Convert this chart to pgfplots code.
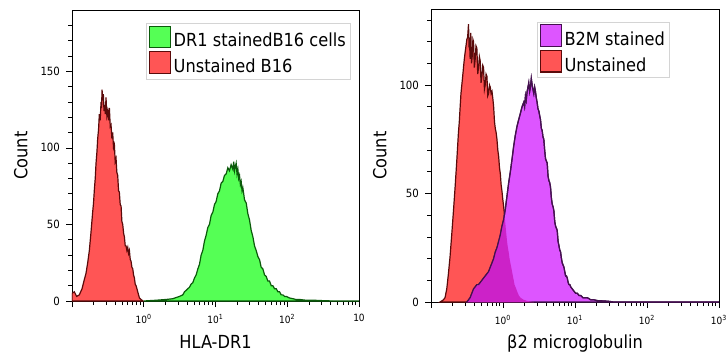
\documentclass[border=0pt]{standalone}
\usepackage{fontspec}
\setmainfont{DejaVu Sans Condensed}
\usepackage{pgfplots}
\pgfplotsset{compat=1.18}
\usepackage{pgfplotstable}

\definecolor{gfill}{HTML}{55FF55}
\definecolor{gline}{HTML}{0B5A0B}
\definecolor{rfill}{HTML}{FF5555}
\definecolor{rline}{HTML}{5A0A0A}
\definecolor{pfill}{HTML}{DD55FF}
\definecolor{pline}{HTML}{44104F}
\definecolor{ofill}{HTML}{CC22C8}
\definecolor{legbord}{HTML}{D4D4D4}

% log10(x)  count
\pgfplotstableread{
lx y
-1.000 5
-0.967 6
-0.935 3
-0.898 4
-0.860 8
-0.828 14
-0.805 18
-0.781 25
-0.758 33
-0.735 45
-0.712 58
-0.700 64
-0.688 73
-0.676 80
-0.665 90
-0.653 97
-0.642 106
-0.630 112
-0.619 122
-0.607 118
-0.595 130
-0.588 126
-0.581 138
-0.572 131
-0.563 135
-0.554 124
-0.544 128
-0.535 122
-0.526 133
-0.514 121
-0.502 124
-0.490 118
-0.479 126
-0.467 114
-0.456 115
-0.444 106
-0.433 110
-0.421 100
-0.409 102
-0.398 91
-0.386 93
-0.375 84
-0.363 82
-0.351 72
-0.340 71
-0.328 63
-0.316 62
-0.305 52
-0.293 50
-0.280 44
-0.270 42
-0.258 36
-0.247 36
-0.235 33
-0.223 35
-0.212 31
-0.200 33
-0.188 27
-0.177 26
-0.165 22
-0.153 21
-0.142 17
-0.130 15
-0.119 11
-0.107 10
-0.095 8
-0.084 6
-0.072 4
-0.060 2
-0.037 1
-0.014 0
0.000 0
}\redL

\pgfplotstableread{
lx y
0.000 0
0.172 0.5
0.312 1
0.405 1.5
0.498 3
0.544 4
0.568 6
0.591 7
0.614 8
0.637 9
0.660 11
0.684 12
0.707 15
0.730 17
0.754 21
0.777 24
0.800 30
0.823 33
0.846 39
0.870 43
0.893 48
0.916 50
0.940 56
0.963 58
0.986 63
1.009 65
1.032 70
1.056 72
1.079 77
1.102 78
1.125 82
1.149 83
1.172 87
1.195 85
1.218 89
1.242 86
1.254 91
1.265 85
1.277 88
1.288 90
1.300 83
1.312 86
1.323 80
1.335 82
1.347 76
1.358 78
1.370 72
1.381 74
1.405 66
1.428 64
1.451 57
1.474 53
1.498 46
1.521 42
1.544 36
1.567 33
1.591 29
1.614 27
1.637 22
1.660 21
1.684 17
1.707 16
1.730 13
1.753 13
1.777 10
1.800 10
1.823 8
1.847 8
1.870 6
1.893 6
1.916 4
1.940 4
1.963 3
1.986 3
2.030 2
2.079 1.5
2.120 1
2.172 1
2.240 0.6
2.312 0.5
2.380 0.5
2.451 0.3
2.540 0.2
2.637 0
3.000 0
}\greenL

\pgfplotstableread{
lx y
-0.874 0
-0.828 1
-0.805 2
-0.781 6
-0.758 13
-0.735 21
-0.712 31
-0.688 42
-0.665 53
-0.642 65
-0.619 78
-0.607 83
-0.595 90
-0.584 96
-0.572 100
-0.560 104
-0.549 108
-0.537 112
-0.526 115
-0.514 118
-0.502 121
-0.491 122
-0.479 128
-0.472 119
-0.465 120
-0.456 112
-0.447 124
-0.437 110
-0.428 113
-0.418 121
-0.409 120
-0.398 108
-0.386 112
-0.375 118
-0.363 117
-0.351 105
-0.340 108
-0.328 113
-0.316 111
-0.305 101
-0.293 104
-0.281 109
-0.270 108
-0.258 98
-0.247 100
-0.235 105
-0.223 104
-0.212 95
-0.200 96
-0.188 100
-0.177 99
-0.165 96
-0.153 97
-0.142 94
-0.130 90
-0.118 83
-0.107 80
-0.095 78
-0.084 75
-0.072 70
-0.060 67
-0.049 62
-0.037 59
-0.026 54
-0.014 51
-0.002 47
0.009 44
0.021 40
0.033 36
0.044 32
0.056 28
0.068 25
0.079 23
0.091 20
0.102 18
0.114 16
0.126 14
0.137 12
0.149 10
0.160 8
0.172 7
0.184 6
0.195 5
0.220 3
0.242 2
0.265 1.5
0.288 1
0.335 0.5
0.428 0
}\redR

\pgfplotstableread{
lx y
-0.502 0
-0.479 1
-0.456 2
-0.433 4
-0.409 6
-0.386 7
-0.363 8
-0.340 8
-0.316 9
-0.293 10
-0.270 11
-0.247 12
-0.223 13
-0.200 14
-0.177 16
-0.153 18
-0.130 20
-0.107 23
-0.084 25
-0.060 28
-0.037 31
-0.014 35
0.009 38
0.033 43
0.056 49
0.079 55
0.102 60
0.126 66
0.149 72
0.172 77
0.195 81
0.218 84
0.242 87
0.265 90
0.288 92
0.300 90
0.312 95
0.323 93
0.335 97
0.347 99
0.358 101
0.370 97
0.381 99
0.393 103
0.405 100
0.416 98
0.428 96
0.440 99
0.451 97
0.463 94
0.474 92
0.486 89
0.498 88
0.509 86
0.521 84
0.533 80
0.544 79
0.556 76
0.567 75
0.579 70
0.591 66
0.602 65
0.614 64
0.626 58
0.637 56
0.649 55
0.660 53
0.672 48
0.684 45
0.695 44
0.707 42
0.719 37
0.730 35
0.742 34
0.753 33
0.765 28
0.777 26
0.788 24
0.800 23
0.812 20
0.823 18
0.835 17
0.847 16
0.858 14
0.870 12
0.882 12
0.893 11
0.905 9
0.917 8
0.928 8
0.940 7
0.963 6
0.986 5
1.010 4
1.033 4
1.056 3
1.079 3
1.110 2
1.140 2
1.172 2
1.220 1
1.265 1
1.320 0.6
1.405 0.5
1.470 0.3
1.544 0
3.000 0
}\purpR

% overlap (min of the two histograms)
\pgfplotstableread{
lx y
-0.502 0
-0.479 1
-0.456 2
-0.433 4
-0.409 6
-0.386 7
-0.363 8
-0.340 8
-0.316 9
-0.293 10
-0.270 11
-0.247 12
-0.223 13
-0.200 14
-0.177 16
-0.153 18
-0.130 20
-0.107 23
-0.084 25
-0.060 28
-0.037 31
-0.014 35
0.009 38
0.018 41
0.033 36
0.044 32
0.056 28
0.068 25
0.079 23
0.091 20
0.102 18
0.114 16
0.126 14
0.137 12
0.149 10
0.160 8
0.172 7
0.184 6
0.195 5
0.220 3
0.242 2
0.265 1.5
0.288 1
0.335 0.5
0.428 0
}\overR

\pgfplotsset{
  legend image code/.code={\draw[#1] (0pt,-5pt) rectangle (16pt,11pt);},
  myhist/.style={line width=0.9pt, forget plot},
}

\begin{document}
\begin{tikzpicture}
\useasboundingbox (0,0) rectangle (546pt,268.5pt);

\begin{axis}[
  scale only axis,
  xmode=log, xmin=0.1, xmax=1000, ymin=0,
  axis line style={black, line width=0.6pt},
  tick align=outside, tick pos=left,
  major tick length=4.5pt, minor tick length=3pt,
  every tick/.style={black, line width=0.5pt},
  xtick={0.1,1,10,100,1000},
  minor xtick={0.2,0.3,0.4,0.5,0.6,0.7,0.8,0.9,2,3,4,5,6,7,8,9,20,30,40,50,60,70,80,90,200,300,400,500,600,700,800,900},
  /pgf/number format/assume math mode=true,
  yticklabel style={font=\fontsize{8.5}{10}\selectfont, xshift=-1pt},
  xticklabel style={font=\fontsize{7.5}{9}\selectfont, yshift=-2pt},
  label style={font=\fontsize{13.5}{16}\selectfont},
  xlabel style={at={(axis description cs:0.5,-0.141)}, anchor=center},
  ylabel style={at={(axis description cs:-0.178,0.5)}, anchor=center},
  legend style={draw=legbord, fill=white, line width=0.8pt,
    font=\fontsize{13.5}{15}\selectfont, inner sep=1.5pt, row sep=0pt,
    at={(axis description cs:0.972,0.955)}, anchor=north east},
  legend cell align=left,
  at={(54pt,42.75pt)}, anchor=south west,
  width=215.25pt, height=218.25pt,
  ymax=190,
  ytick={0,50,100,150}, minor ytick={10,20,30,40,60,70,80,90,110,120,130,140,160,170,180},
  xticklabels={,10\textsuperscript{0},10\textsuperscript{1},10\textsuperscript{2},10},
  xlabel={HLA-DR1}, ylabel={Count},
]
\addlegendimage{fill=gfill, draw=gline, line width=0.8pt}
\addlegendentry{DR1 stainedB16 cells}
\addlegendimage{fill=rfill, draw=rline, line width=0.8pt}
\addlegendentry{Unstained B16}
\addplot[myhist, fill=gfill, draw=gline] table[x expr={10^(\thisrow{lx})}, y=y] {\greenL} \closedcycle;
\addplot[myhist, fill=rfill, draw=rline] table[x expr={10^(\thisrow{lx})}, y=y] {\redL} \closedcycle;
\end{axis}

\begin{axis}[
  scale only axis,
  xmode=log, xmin=0.1, xmax=1000, ymin=0,
  axis line style={black, line width=0.6pt},
  tick align=outside, tick pos=left,
  major tick length=4.5pt, minor tick length=3pt,
  every tick/.style={black, line width=0.5pt},
  xtick={0.1,1,10,100,1000},
  minor xtick={0.2,0.3,0.4,0.5,0.6,0.7,0.8,0.9,2,3,4,5,6,7,8,9,20,30,40,50,60,70,80,90,200,300,400,500,600,700,800,900},
  /pgf/number format/assume math mode=true,
  yticklabel style={font=\fontsize{8.5}{10}\selectfont, xshift=-1pt},
  xticklabel style={font=\fontsize{7.5}{9}\selectfont, yshift=-2pt},
  label style={font=\fontsize{13.5}{16}\selectfont},
  xlabel style={at={(axis description cs:0.5,-0.141)}, anchor=center},
  ylabel style={at={(axis description cs:-0.178,0.5)}, anchor=center},
  legend style={draw=legbord, fill=white, line width=0.8pt,
    font=\fontsize{13.5}{15}\selectfont, inner sep=1.5pt, row sep=0pt,
    at={(axis description cs:0.830,0.956)}, anchor=north east},
  legend cell align=left,
  at={(323.25pt,42pt)}, anchor=south west,
  width=216pt, height=219.75pt,
  ymax=135,
  ytick={0,50,100}, minor ytick={10,20,30,40,60,70,80,90,110,120,130},
  xticklabels={,10\textsuperscript{0},10\textsuperscript{1},10\textsuperscript{2},10\textsuperscript{3}},
  xlabel={β2 microglobulin}, ylabel={Count},
]
\addlegendimage{fill=pfill, draw=pline, line width=0.8pt}
\addlegendentry{B2M stained}
\addlegendimage{fill=rfill, draw=rline, line width=0.8pt}
\addlegendentry{Unstained}
\addplot[myhist, fill=rfill, draw=rline] table[x expr={10^(\thisrow{lx})}, y=y] {\redR} \closedcycle;
\addplot[myhist, fill=pfill, draw=pline] table[x expr={10^(\thisrow{lx})}, y=y] {\purpR} \closedcycle;
\addplot[myhist, fill=ofill, draw=none] table[x expr={10^(\thisrow{lx})}, y=y] {\overR} \closedcycle;
\addplot[myhist, draw=pline] table[x expr={10^(\thisrow{lx})}, y=y] {\purpR};
\end{axis}
\end{tikzpicture}
\end{document}
